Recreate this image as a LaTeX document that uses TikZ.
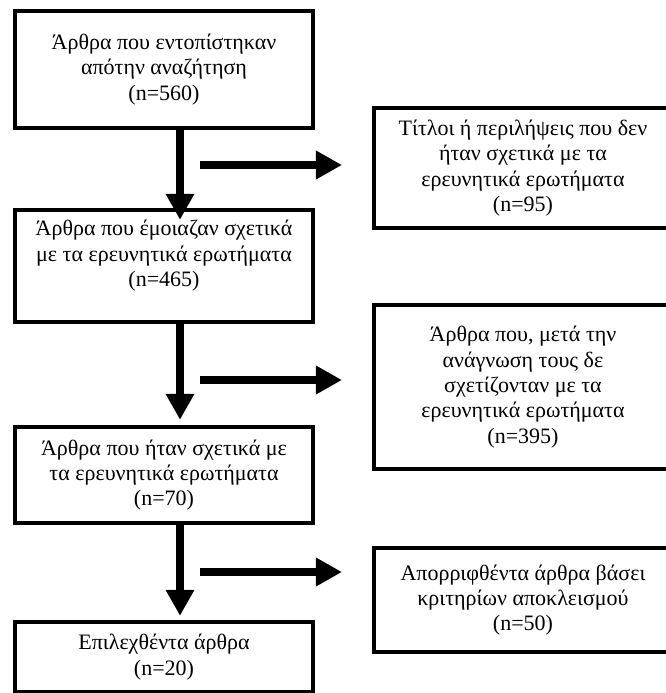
\documentclass[tikz,border=0pt]{standalone}
\usepackage{fontspec}
\setmainfont{Liberation Serif}
\usepackage{tikz}
\usetikzlibrary{arrows.meta}

\tikzset{
  box/.style={draw, line width=2.2pt, minimum width=149pt, align=center,
    font=\fontsize{11}{12.7}\selectfont, inner sep=2pt},
  flow/.style={line width=4.2pt, -{Triangle[length=13pt, width=13.5pt]}}
}

\begin{document}
\begin{tikzpicture}[x=0.5pt, y=-0.5pt]
    \useasboundingbox (0,0) rectangle (666,693);
    \clip (0,0) rectangle (666,693);
    % main column
    \node[box, minimum height=58.5pt] (b1) at (164,69.5) {Άρθρα που εντοπίστηκαν\\ απότην αναζήτηση\\ (n=560)};
    \node[box, minimum height=56pt] (b2) at (164,266) {Άρθρα που έμοιαζαν σχετικά\\ με τα ερευνητικά ερωτήματα\\ (n=465)\\ \mbox{}};
    \node[box, minimum height=48pt] (b3) at (164,475) {Άρθρα που ήταν σχετικά με\\ τα ερευνητικά ερωτήματα\\ (n=70)};
    \node[box, minimum height=35pt] (b4) at (164,657) {Επιλεχθέντα άρθρα\\ (n=20)};
    % excluded
    \node[box, minimum height=60pt] (r1) at (523,168) {Τίτλοι ή περιλήψεις που δεν\\ ήταν σχετικά με τα\\ ερευνητικά ερωτήματα\\ (n=95)};
    \node[box, minimum height=82pt] (r2) at (523,387) {Άρθρα που, μετά την\\ ανάγνωση τους δε\\ σχετίζονταν με τα\\ ερευνητικά ερωτήματα\\ (n=395)};
    \node[box, minimum height=52pt] (r3) at (523,600) {Απορριφθέντα άρθρα βάσει\\ κριτηρίων αποκλεισμού\\ (n=50)};
    \draw[flow, shorten >=-6pt] ([xshift=8pt]b1.south) -- ([xshift=8pt]b2.north);
    \draw[flow, shorten >=2.5pt] ([xshift=8pt]b2.south) -- ([xshift=8pt]b3.north);
    \draw[flow, shorten >=2pt] ([xshift=8pt]b3.south) -- ([xshift=8pt]b4.north);
    % side arrows
    \coordinate (h1s) at (200,165);
    \coordinate (h1e) at (342,165);
    \coordinate (h2s) at (200,380);
    \coordinate (h2e) at (342,380);
    \coordinate (h3s) at (200,572);
    \coordinate (h3e) at (342,572);
    \draw[flow] (h1s) -- (h1e);
    \draw[flow] (h2s) -- (h2e);
    \draw[flow] (h3s) -- (h3e);
\end{tikzpicture}
\end{document}
